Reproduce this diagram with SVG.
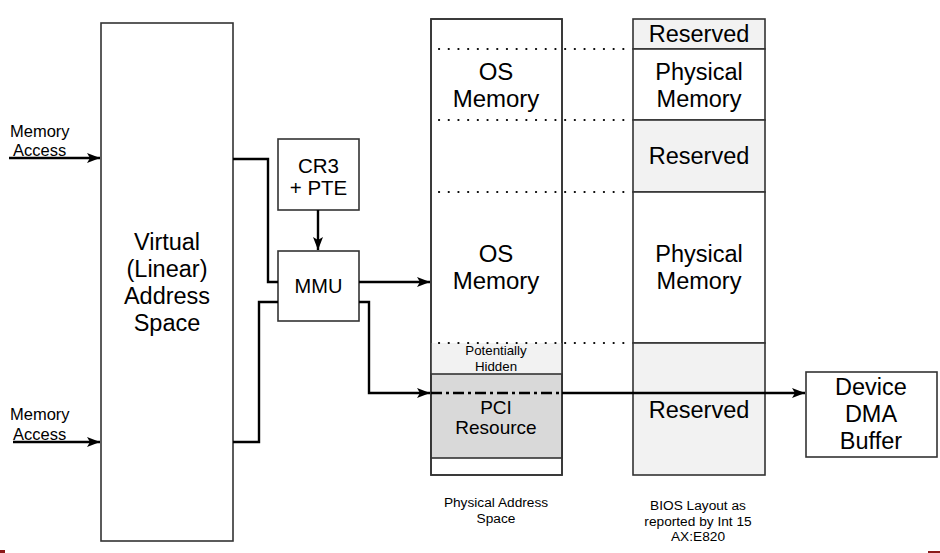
<svg xmlns="http://www.w3.org/2000/svg" width="940" height="553" viewBox="0 0 940 553">
<defs>
<marker id="ah" viewBox="0 0 13 10" refX="13" refY="5" markerWidth="13" markerHeight="10" markerUnits="userSpaceOnUse" orient="auto">
<path d="M0,0 L13,5 L0,10 L3,5 Z" fill="#000"/>
</marker>
<style>
.box{fill:#fff;stroke:#333;stroke-width:1.6}
.gray{fill:#f2f2f2;stroke:#333;stroke-width:1.6}
.dark{fill:#d9d9d9;stroke:#333;stroke-width:1.6}
.t{font-family:"Liberation Sans",Arial,sans-serif;fill:#000;text-anchor:middle}
.tl{font-family:"Liberation Sans",Arial,sans-serif;fill:#000}
.c{fill:none;stroke:#000;stroke-width:2.4}
.dot{fill:none;stroke:#000;stroke-width:2.2;stroke-linecap:round;stroke-dasharray:0.1 9.6}
</style>
</defs>
<rect width="940" height="553" fill="#fff"/>

<g id="virtual">
<rect class="box" x="101" y="23" width="132" height="518"/>
<text class="t" font-size="23.5" x="167" y="250">Virtual</text>
<text class="t" font-size="23.5" x="167" y="277">(Linear)</text>
<text class="t" font-size="23.5" x="167" y="304">Address</text>
<text class="t" font-size="23.5" x="167" y="331">Space</text>
</g>

<g id="label-access-top">
<text class="tl" font-size="16.5" x="10" y="137">Memory</text>
<text class="tl" font-size="16.5" x="13" y="156">Access</text>
</g>
<g id="label-access-bottom">
<text class="tl" font-size="16.5" x="10" y="420">Memory</text>
<text class="tl" font-size="16.5" x="13" y="440">Access</text>
</g>

<g id="cr3">
<rect class="box" x="278" y="139" width="81" height="71"/>
<text class="t" font-size="20.5" x="318.5" y="173">CR3</text>
<text class="t" font-size="20.5" x="318.5" y="195">+ PTE</text>
</g>

<g id="mmu">
<rect class="box" x="278" y="251" width="81" height="70"/>
<text class="t" font-size="20" x="318.5" y="293">MMU</text>
</g>

<g id="physical">
<rect class="box" x="431" y="19" width="131" height="456"/>
<rect x="431" y="343" width="131" height="31" fill="#f2f2f2"/>
<rect class="dark" x="431" y="374" width="131" height="84"/>
<rect x="431" y="19" width="131" height="456" fill="none" stroke="#333" stroke-width="1.6"/>
<text class="t" font-size="24" x="496" y="80">OS</text>
<text class="t" font-size="24" x="496" y="107">Memory</text>
<text class="t" font-size="24" x="496" y="262">OS</text>
<text class="t" font-size="24" x="496" y="289">Memory</text>
<text class="t" font-size="13.3" x="496" y="355">Potentially</text>
<text class="t" font-size="13.3" x="496" y="371">Hidden</text>
<text class="t" font-size="19" x="496" y="414">PCI</text>
<text class="t" font-size="19" x="496" y="434">Resource</text>
<text class="t" font-size="13.7" x="496" y="507">Physical Address</text>
<text class="t" font-size="13.7" x="496" y="523">Space</text>
</g>

<g id="bios">
<rect class="gray" x="633" y="19" width="132" height="30"/>
<rect class="box" x="633" y="49" width="132" height="71"/>
<rect class="gray" x="633" y="120" width="132" height="72"/>
<rect class="box" x="633" y="192" width="132" height="151"/>
<rect class="gray" x="633" y="343" width="132" height="132"/>
<text class="t" font-size="23.5" x="699" y="42">Reserved</text>
<text class="t" font-size="23.5" x="699" y="80">Physical</text>
<text class="t" font-size="23.5" x="699" y="107">Memory</text>
<text class="t" font-size="23.5" x="699" y="164">Reserved</text>
<text class="t" font-size="23.5" x="699" y="262">Physical</text>
<text class="t" font-size="23.5" x="699" y="289">Memory</text>
<text class="t" font-size="23.5" x="699" y="418">Reserved</text>
<text class="t" font-size="13.7" x="698" y="510">BIOS Layout as</text>
<text class="t" font-size="13.7" x="698" y="526">reported by Int 15</text>
<text class="t" font-size="13.7" x="698" y="541">AX:E820</text>
</g>

<g id="dma">
<rect class="box" x="806" y="372" width="131" height="85"/>
<text class="t" font-size="23.5" x="871" y="395">Device</text>
<text class="t" font-size="23.5" x="871" y="422">DMA</text>
<text class="t" font-size="23.5" x="871" y="449">Buffer</text>
</g>

<g id="connectors">
<path class="dot" d="M439,49 H633"/>
<path class="dot" d="M439,120 H633"/>
<path class="dot" d="M439,192 H633"/>
<path class="dot" d="M439,343 H633"/>
<path class="c" d="M9,158 H100" marker-end="url(#ah)"/>
<path class="c" d="M13,442 H100" marker-end="url(#ah)"/>
<path class="c" d="M233,159 H268 V282 H278"/>
<path class="c" d="M233,442 H259 V302 H278"/>
<path class="c" d="M318,210 V250" marker-end="url(#ah)"/>
<path class="c" d="M359,282 H430" marker-end="url(#ah)"/>
<path class="c" d="M359,302 H369 V393 H430" marker-end="url(#ah)"/>
<path class="c" d="M431,393 H562" stroke-dasharray="11 4 3 4"/>
<path class="c" d="M562,393 H805" marker-end="url(#ah)"/>
</g>

<g id="page-marks">
<rect x="0" y="550" width="5" height="3" fill="#8b1a1a"/>
<rect x="928" y="551" width="12" height="2" fill="#8b1a1a"/>
</g>
</svg>
